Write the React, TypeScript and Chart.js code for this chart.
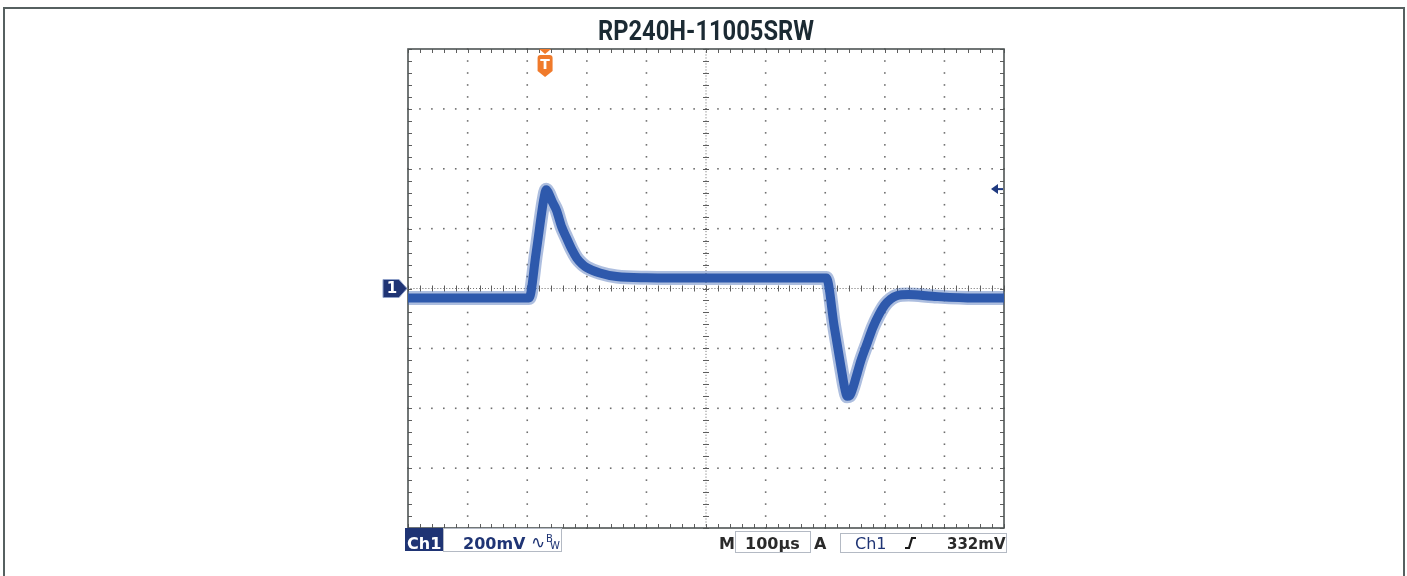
import React, { useEffect, useRef } from "react";
import { Chart, registerables } from "chart.js";

Chart.register(...registerables);

// ---- data ----
const TITLE = "RP240H-11005SRW";
const timeUs = [0, 100, 200, 203, 215, 228, 232, 236, 242, 249, 258, 266, 275, 283, 292, 300, 322, 350, 400, 500, 600, 700, 702, 715, 728, 733, 737, 741, 746, 752, 760, 770, 780, 790, 800, 810, 820, 840, 880, 950, 1000];
const voltageMv = [-32, -32, -32, -32, 120, 300, 330, 318, 290, 262, 205, 169, 130, 102, 82, 70, 52, 40, 36, 35, 35, 35, 35, -125, -280, -335, -360, -358, -335, -295, -240, -185, -130, -88, -55, -35, -24, -20, -26, -32, -32];
const xMajor = [0, 100, 200, 300, 400, 500, 600, 700, 800, 900, 1000];
const yMajor = [-800, -600, -400, -200, 0, 200, 400, 600, 800];
const X_MIN = 0, X_MAX = 1000, Y_MIN = -800, Y_MAX = 800;
const X_MINOR = 20, Y_MINOR = 40;
const TRIGGER_TIME = 230;
const TRIGGER_LEVEL = 332;
const statusLabels = { ch: "Ch1", volts: "200mV", mLabel: "M", time: "100µs", aLabel: "A", trigCh: "Ch1", level: "332mV" };

const TRACE = "#2c58aa";
const NAVY = "#1f3474";

const scopePlugin = {
  id: "scopeDecor",
  beforeDatasetsDraw(chart: any) {
    const { ctx, scales } = chart;
    const x = scales.x, y = scales.y;
    const L = x.getPixelForValue(X_MIN), R = x.getPixelForValue(X_MAX);
    const T = y.getPixelForValue(Y_MAX), B = y.getPixelForValue(Y_MIN);
    const cx = x.getPixelForValue((X_MIN + X_MAX) / 2);
    const cy = y.getPixelForValue(0);
    ctx.save();
    ctx.fillStyle = "#6f6f6f";
    for (const gx of xMajor) {
      if (gx === X_MIN || gx === X_MAX || gx === 500) continue;
      const px = x.getPixelForValue(gx);
      for (let v = Y_MIN; v <= Y_MAX; v += Y_MINOR) {
        const py = y.getPixelForValue(v);
        ctx.fillRect(px - 0.75, py - 0.75, 1.6, 1.6);
      }
    }
    for (const gy of yMajor) {
      if (gy === Y_MIN || gy === Y_MAX || gy === 0) continue;
      const py = y.getPixelForValue(gy);
      for (let t = X_MIN; t <= X_MAX; t += X_MINOR) {
        const px = x.getPixelForValue(t);
        ctx.fillRect(px - 0.75, py - 0.75, 1.6, 1.6);
      }
    }
    ctx.fillStyle = "#6a6a6a";
    for (let t = X_MIN; t <= X_MAX; t += X_MINOR / 4) {
      const px = x.getPixelForValue(t);
      ctx.fillRect(px - 0.5, cy - 0.5, 1, 1);
    }
    for (let v = Y_MIN; v <= Y_MAX; v += Y_MINOR / 4) {
      const py = y.getPixelForValue(v);
      ctx.fillRect(cx - 0.5, py - 0.5, 1, 1);
    }
    ctx.strokeStyle = "#5e5e5e";
    ctx.lineWidth = 1;
    ctx.beginPath();
    for (let t = X_MIN; t <= X_MAX; t += X_MINOR) {
      const px = Math.round(x.getPixelForValue(t)) + 0.5;
      ctx.moveTo(px, cy - 3); ctx.lineTo(px, cy + 3);
      ctx.moveTo(px, T); ctx.lineTo(px, T + 4);
      ctx.moveTo(px, B); ctx.lineTo(px, B - 4);
    }
    for (let v = Y_MIN; v <= Y_MAX; v += Y_MINOR) {
      const py = Math.round(y.getPixelForValue(v)) + 0.5;
      ctx.moveTo(cx - 3, py); ctx.lineTo(cx + 3, py);
      ctx.moveTo(L, py); ctx.lineTo(L + 4, py);
      ctx.moveTo(R, py); ctx.lineTo(R - 4, py);
    }
    ctx.stroke();
    ctx.strokeStyle = "#4e5454";
    ctx.lineWidth = 1.6;
    ctx.strokeRect(L, T, R - L, B - T);
    ctx.restore();
  },
  afterDraw(chart: any) {
    const { ctx, scales } = chart;
    const x = scales.x, y = scales.y;
    const L = x.getPixelForValue(X_MIN), R = x.getPixelForValue(X_MAX);
    const T = y.getPixelForValue(Y_MAX), B = y.getPixelForValue(Y_MIN);
    const cx = x.getPixelForValue((X_MIN + X_MAX) / 2);
    ctx.save();
    // title
    ctx.fillStyle = "#1b2a33";
    ctx.font = "bold 28px Roboto";
    ctx.textBaseline = "alphabetic";
    ctx.textAlign = "left";
    const w = ctx.measureText(TITLE).width;
    const target = 216;
    ctx.save();
    ctx.translate(cx - target / 2, 40);
    ctx.scale(target / w, 1);
    ctx.fillText(TITLE, 0, 0);
    ctx.restore();

    // channel ground marker "1"
    const gy = y.getPixelForValue(0);
    ctx.fillStyle = NAVY;
    ctx.strokeStyle = "#8fa0c8";
    ctx.lineWidth = 1;
    ctx.beginPath();
    ctx.moveTo(L - 25, gy - 9);
    ctx.lineTo(L - 9, gy - 9);
    ctx.lineTo(L - 1, gy);
    ctx.lineTo(L - 9, gy + 9);
    ctx.lineTo(L - 25, gy + 9);
    ctx.closePath();
    ctx.fill();
    ctx.stroke();
    ctx.fillStyle = "#fff";
    ctx.font = "bold 15px 'DejaVu Sans'";
    ctx.textAlign = "center";
    ctx.textBaseline = "middle";
    ctx.fillText("1", L - 16, gy + 1);

    // trigger position marker "T"
    const tx = x.getPixelForValue(TRIGGER_TIME);
    ctx.fillStyle = "#f07a2b";
    ctx.beginPath();
    ctx.moveTo(tx - 6, T); ctx.lineTo(tx + 6, T); ctx.lineTo(tx, T + 5); ctx.closePath();
    ctx.fill();
    ctx.beginPath();
    ctx.moveTo(tx - 7.5, T + 9);
    ctx.quadraticCurveTo(tx - 7.5, T + 6, tx - 4.5, T + 6);
    ctx.lineTo(tx + 4.5, T + 6);
    ctx.quadraticCurveTo(tx + 7.5, T + 6, tx + 7.5, T + 9);
    ctx.lineTo(tx + 7.5, T + 22);
    ctx.lineTo(tx, T + 28);
    ctx.lineTo(tx - 7.5, T + 22);
    ctx.closePath();
    ctx.fill();
    ctx.fillStyle = "#fff";
    ctx.font = "bold 14px 'DejaVu Sans'";
    ctx.fillText("T", tx, T + 16);

    // trigger level arrow
    const ly = y.getPixelForValue(TRIGGER_LEVEL);
    ctx.fillStyle = "#1f3a80";
    ctx.beginPath();
    ctx.moveTo(R - 13, ly); ctx.lineTo(R - 6, ly - 5); ctx.lineTo(R - 6, ly + 5); ctx.closePath();
    ctx.fill();
    ctx.fillRect(R - 7, ly - 1, 6, 2);

    // status bar
    const base = B + 21;
    ctx.textBaseline = "alphabetic";
    ctx.textAlign = "left";
    ctx.fillStyle = NAVY;
    ctx.fillRect(L - 3, B, 38, 23);
    ctx.fillStyle = "#fff";
    ctx.font = "bold 16px 'DejaVu Sans'";
    ctx.fillText(statusLabels.ch, L - 1, base);
    ctx.strokeStyle = "#b4bac4";
    ctx.lineWidth = 1;
    ctx.strokeRect(L + 35.5, B + 0.5, 118, 23);
    ctx.fillStyle = NAVY;
    ctx.fillText(statusLabels.volts, L + 55, base);
    ctx.font = "17px 'DejaVu Sans'";
    ctx.fillText("∿", L + 123, base - 1);
    ctx.font = "10px 'DejaVu Sans'";
    ctx.fillText("B", L + 138, base - 7);
    ctx.fillText("W", L + 142, base);

    ctx.fillStyle = "#2a2a2a";
    ctx.font = "bold 16px 'DejaVu Sans'";
    ctx.fillText(statusLabels.mLabel, 719, base);
    ctx.strokeRect(735.5, B + 3.5, 75, 21);
    ctx.fillText(statusLabels.time, 745, base);
    ctx.fillText(statusLabels.aLabel, 814, base);
    ctx.strokeRect(840.5, B + 5.5, 166, 19);
    ctx.fillStyle = NAVY;
    ctx.font = "16px 'DejaVu Sans'";
    ctx.fillText(statusLabels.trigCh, 855, base);
    ctx.strokeStyle = "#1a1a1a";
    ctx.lineWidth = 2.2;
    ctx.beginPath();
    ctx.moveTo(905, base - 1);
    ctx.lineTo(909, base - 1);
    ctx.lineTo(912, base - 11);
    ctx.lineTo(916, base - 11);
    ctx.stroke();
    ctx.fillStyle = "#2a2a2a";
    ctx.font = "bold 15px 'DejaVu Sans'";
    ctx.fillText(statusLabels.level, 947, base);
    ctx.restore();
  },
};

export default function App() {
  const ref = useRef<HTMLCanvasElement | null>(null);
  useEffect(() => {
    if (!ref.current) return;
    const pts = timeUs.map((t, i) => ({ x: t, y: voltageMv[i] }));
    const chart = new Chart(ref.current, {
      type: "line",
      data: {
        datasets: [
          {
            label: "halo",
            data: pts,
            borderColor: "rgba(50,92,175,0.40)",
            borderWidth: 14,
            pointRadius: 0,
            cubicInterpolationMode: "monotone",
            borderJoinStyle: "round",
            borderCapStyle: "butt",
          },
          {
            label: "Ch1",
            data: pts,
            borderColor: TRACE,
            borderWidth: 9,
            pointRadius: 0,
            cubicInterpolationMode: "monotone",
            borderJoinStyle: "round",
            borderCapStyle: "butt",
          },
        ],
      },
      options: {
        responsive: false,
        animation: false,
        layout: { padding: { left: 408, right: 403, top: 49, bottom: 48 } },
        plugins: { legend: { display: false }, title: { display: false }, tooltip: { enabled: false } },
        scales: {
          x: { type: "linear", min: X_MIN, max: X_MAX, display: false },
          y: { type: "linear", min: Y_MIN, max: Y_MAX, display: false },
        },
      },
      plugins: [scopePlugin],
    });
    return () => chart.destroy();
  }, []);
  return (
    <div style={{ position: "fixed", left: 0, top: 0, width: 1407, height: 576, background: "#fff", overflow: "hidden" }}>
      <div style={{ position: "absolute", left: 3, top: 7, width: 1398, height: 600, border: "2px solid #566060" }} />
      <canvas ref={ref} width={1407} height={576} style={{ position: "absolute", left: 0, top: 0, display: "block" }} />
    </div>
  );
}
